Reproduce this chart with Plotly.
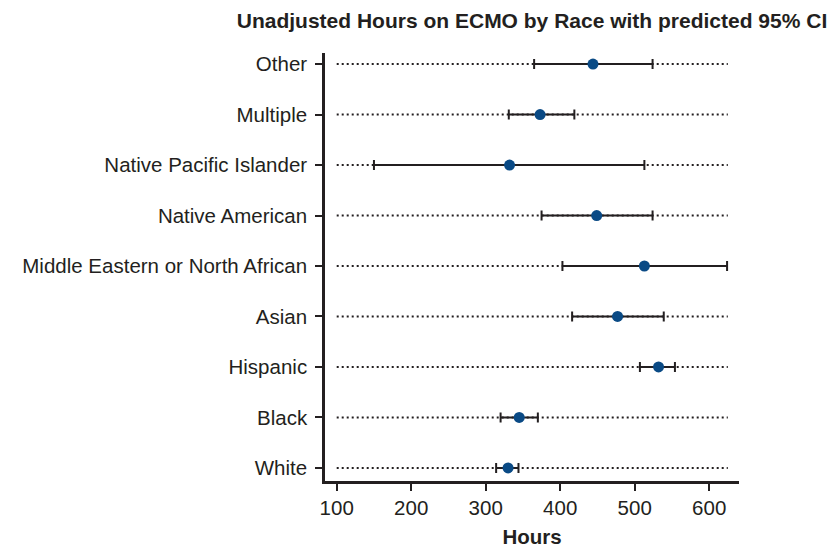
import plotly.graph_objects as go

races = ["White", "Black", "Hispanic", "Asian", "Middle Eastern or North African",
         "Native American", "Native Pacific Islander", "Multiple", "Other"]
hours = [330, 345, 532, 477, 513, 449, 332, 373, 444]
ci_low = [314, 320, 507, 416, 403, 375, 150, 331, 365]
ci_high = [344, 370, 554, 539, 624, 524, 513, 419, 524]

ref_from = 100
ref_to = 625

FONT = "Liberation Sans, Arial, Helvetica, sans-serif"
INK = "#231f20"

fig = go.Figure()

for r in races:
    fig.add_trace(go.Scatter(
        x=[ref_from, ref_to], y=[r, r], mode="lines",
        line=dict(color=INK, width=2, dash="2px,3px"),
        hoverinfo="skip", showlegend=False))

fig.add_trace(go.Scatter(
    x=hours, y=races, mode="markers",
    marker=dict(color="#0a4a85", size=11),
    error_x=dict(type="data", symmetric=False,
                 array=[h - m for h, m in zip(ci_high, hours)],
                 arrayminus=[m - l for m, l in zip(hours, ci_low)],
                 color=INK, thickness=2, width=5),
    showlegend=False))

fig.update_layout(
    width=833, height=548,
    margin=dict(l=325, r=94, t=53, b=67),
    paper_bgcolor="white", plot_bgcolor="white",
    font=dict(family=FONT, size=20, color=INK),
    title=dict(text="<b>Unadjusted Hours on ECMO by Race with predicted 95% CI</b>",
               x=0.5, xref="paper", xanchor="center",
               y=1 - 21 / 548, yref="container", yanchor="middle",
               font=dict(family=FONT, size=21, color=INK)),
)

fig.update_xaxes(
    range=[84.3, 640], tickvals=[100, 200, 300, 400, 500, 600],
    showgrid=False, zeroline=False, automargin=False,
    showline=True, linewidth=2.5, linecolor=INK,
    ticks="outside", ticklen=7, tickwidth=2, tickcolor=INK,
    tickfont=dict(size=20.5),
    title=dict(text="<b>Hours</b>", font=dict(size=20.5), standoff=12),
)

fig.update_yaxes(
    type="category", categoryorder="array", categoryarray=races,
    range=[-0.26, 8.22], automargin=False,
    showgrid=False, zeroline=False,
    showline=True, linewidth=2.5, linecolor=INK,
    ticks="outside", ticklen=7, tickwidth=2, tickcolor=INK,
    tickfont=dict(size=20.5), ticklabelstandoff=4,
)

fig.write_html("out.html")
